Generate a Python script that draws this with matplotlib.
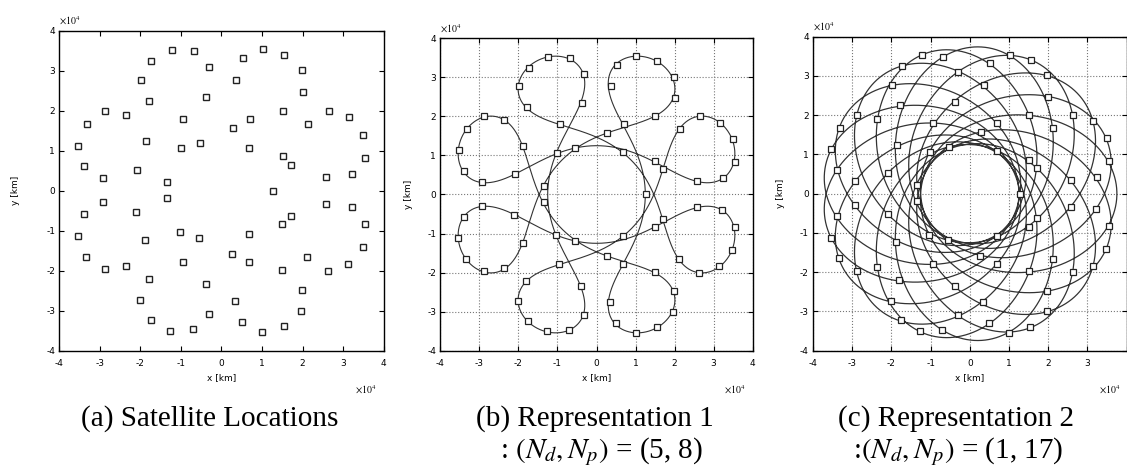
import numpy as np
import matplotlib
matplotlib.use("Agg")
import matplotlib.pyplot as plt
from matplotlib.ticker import FuncFormatter

plt.rcParams["axes.unicode_minus"] = False
plt.rcParams["mathtext.fontset"] = "stix"

# satellite positions in the rotating frame, units of 1e4 km
SAT_X = [-1.23, -0.68, -1.73, -0.31, -1.99, -1.78, -2.88, -2.36, -3.32, -0.38,
         -0.94, -3.53, -1.87, -1.01, -0.54, -3.39, -2.09, -2.93, -1.34,
         0.52, 1.02, 1.55, 0.36, 1.98, 2.00, 1.51, 2.64, 3.15, 0.70,
         0.28, 2.13, 3.49, 0.69, 1.51, 1.71, 3.54, 2.58, 3.23, 1.27,
         -1.26, -0.71, -1.75, -0.31, -2.00, -1.80, -2.88, -2.36, -3.33, -0.39,
         -0.95, -3.54, -1.89, -1.03, -0.55, -3.39, -2.10, -2.93, -1.34,
         0.50, 1.00, 1.54, 0.34, 1.97, 1.98, 1.50, 2.62, 3.13, 0.69,
         0.27, 2.12, 3.48, 0.68, 1.50, 1.71, 3.54, 2.58, 3.22]
SAT_Y = [3.53, 3.49, 3.25, 3.09, 2.77, 2.25, 2.00, 1.90, 1.68, 2.34,
         1.81, 1.13, 1.25, 1.07, 1.20, 0.61, 0.53, 0.33, 0.21,
         3.32, 3.54, 3.41, 2.77, 3.02, 2.47, 2.00, 2.01, 1.84, 1.81,
         1.57, 1.67, 1.41, 1.08, 0.86, 0.65, 0.83, 0.34, 0.42, 0.00,
         -3.50, -3.46, -3.23, -3.08, -2.74, -2.21, -1.96, -1.88, -1.65, -2.34,
         -1.79, -1.12, -1.23, -1.04, -1.19, -0.58, -0.52, -0.29, -0.18,
         -3.29, -3.54, -3.39, -2.75, -3.00, -2.48, -1.98, -2.00, -1.83, -1.79,
         -1.58, -1.66, -1.41, -1.07, -0.84, -0.63, -0.82, -0.33, -0.40]

# orbit shape (1e4 km) and the two (N_d, N_p) frame choices
R_PERIGEE = 1.25
R_APOGEE = 3.75
REPS = [(5, 8), (1, 17)]

CAPTIONS = ["(a) Satellite Locations",
            "(b) Representation 1", "(c) Representation 2"]
SUBCAPTIONS = [None, r": $(N_d, N_p)$ = (5, 8)", r":$(N_d, N_p)$ = (1, 17)"]

TICKS = [-4, -3, -2, -1, 0, 1, 2, 3, 4]


def relative_track(nd, np_, n=40000):
    """Closed track of the orbit seen from a frame turning N_d times per N_p orbits."""
    a = 0.5 * (R_PERIGEE + R_APOGEE)
    e = (R_APOGEE - R_PERIGEE) / (R_APOGEE + R_PERIGEE)
    M = np.linspace(0, 2 * np.pi * np_, n)
    E = M.copy()
    for _ in range(40):
        E = E - (E - e * np.sin(E) - M) / (1 - e * np.cos(E))
    nu = 2 * np.arctan2(np.sqrt(1 + e) * np.sin(E / 2), np.sqrt(1 - e) * np.cos(E / 2))
    r = a * (1 - e * np.cos(E))
    th = nu - (nd / np_) * M
    return r * np.cos(th), r * np.sin(th)


W, H = 1127, 476
fig = plt.figure(figsize=(W / 100, H / 100), dpi=100)

# axes boxes in pixels: left, top, right, bottom
boxes = [(59.3, 31.0, 383.7, 350.7),
         (440.3, 38.3, 752.7, 350.7),
         (813.0, 36.7, 1126.7, 350.7)]
ylabel_pads = [19, 10, 11]
exp_right = [355, 724, 1099]

fmt = FuncFormatter(lambda v, p: f"{v:g}")
# the last panel runs off the page edge, so its x = 4 label is not shown
fmt_cut = FuncFormatter(lambda v, p: "" if v >= 4 else f"{v:g}")
axes = []
for i, ((l, t, r, b), yp) in enumerate(zip(boxes, ylabel_pads)):
    ax = fig.add_axes([l / W, 1 - b / H, (r - l) / W, (b - t) / H])
    ax.set_xlim(-4, 4)
    ax.set_ylim(-4, 4)
    ax.set_xticks(TICKS)
    ax.set_yticks(TICKS)
    ax.xaxis.set_major_formatter(fmt_cut if i == 2 else fmt)
    ax.yaxis.set_major_formatter(fmt)
    ax.tick_params(direction="in", length=3.5, width=0.8, labelsize=6.5,
                   top=True, right=True, colors="black")
    ax.tick_params(axis="x", pad=6)
    ax.tick_params(axis="y", pad=3)
    for sp in ax.spines.values():
        sp.set_linewidth(1.0)
    ax.set_xlabel("x [km]", fontsize=6.5, labelpad=4)
    ax.set_ylabel("y [km]", fontsize=6.5, labelpad=yp)
    axes.append(ax)

# (a) satellites only
axes[0].plot(SAT_X, SAT_Y, ls="none", marker="s", ms=4.0, mfc="white",
             mec="#222222", mew=1.0)

# (b), (c) relative trajectories with the satellites on them
for ax, (nd, np_) in zip(axes[1:], REPS):
    ax.grid(True, ls=":", color="#777777", lw=0.8)
    ax.set_axisbelow(True)
    tx, ty = relative_track(nd, np_)
    lw = 0.8 if np_ == 8 else 0.9
    ax.plot(tx, ty, color="#333333", lw=lw, zorder=2)
    ax.plot(SAT_X, SAT_Y, ls="none", marker="s", ms=4.0, mfc="white",
            mec="#222222", mew=0.9, zorder=3)

# MATLAB-style exponent labels
for (l, t, r, b), ex in zip(boxes, exp_right):
    fig.text(l / W, 1 - (t - 10) / H, r"$\times 10^{4}$", fontsize=7,
             ha="left", va="center")
    fig.text(ex / W, 1 - 390 / H, r"$\times 10^{4}$", fontsize=7,
             ha="left", va="center")

# captions
cap_x = [210, 595, 956]
sub_x = [None, 602, 958]
for cx, sx, c, s in zip(cap_x, sub_x, CAPTIONS, SUBCAPTIONS):
    fig.text(cx / W, 1 - 419 / H, c, fontsize=21, family="Liberation Serif",
             ha="center", va="center")
    if s:
        fig.text(sx / W, 1 - 452 / H, s, fontsize=21, family="Liberation Serif",
                 ha="center", va="center")

fig.savefig("out.png", dpi=100)
